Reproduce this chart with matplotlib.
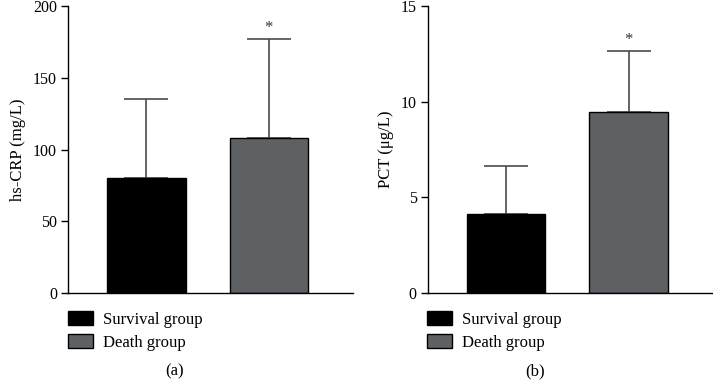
import matplotlib
matplotlib.use('Agg')
import matplotlib.pyplot as plt
from matplotlib.patches import Patch

plt.rcParams['font.family'] = ['Liberation Serif', 'DejaVu Serif']

groups = ['Survival group', 'Death group']
colors = ['#000000', '#5e6164']

crp_mean = [80, 107.8]
crp_sd = [55.2, 69.4]
pct_mean = [4.13, 9.44]
pct_sd = [2.49, 3.21]

panels = [
    ('hs-CRP (mg/L)', crp_mean, crp_sd, 200, [0, 50, 100, 150, 200], '(a)'),
    ('PCT (μg/L)', pct_mean, pct_sd, 15, [0, 5, 10, 15], '(b)'),
]

fig = plt.figure(figsize=(7.13, 3.82), dpi=100)
lefts = [0.0954, 0.600]
for (ylabel, means, sds, ymax, ticks, tag), left in zip(panels, lefts):
    ax = fig.add_axes([left, 0.233, 0.40, 0.751])
    x = [0, 1]
    ax.bar(x, means, width=0.64, color=colors, edgecolor='black', linewidth=1.0, zorder=2)
    _, caps, lines = ax.errorbar(x, means, yerr=[[0, 0], sds], fmt='none',
                                 ecolor='#4a4a4a', elinewidth=1.2, capsize=16,
                                 capthick=1.2, zorder=1)
    for c in caps:
        c.set_color('black')
    ax.text(1, means[1] + sds[1] + ymax * 0.01, '*', ha='center',
            va='bottom', fontsize=12, color='#333333')
    ax.set_xlim(-0.64, 1.69)
    ax.set_ylim(0, ymax)
    ax.set_yticks(ticks)
    ax.set_xticks([])
    ax.spines['top'].set_visible(False)
    ax.spines['right'].set_visible(False)
    for s in ['left', 'bottom']:
        ax.spines[s].set_linewidth(1.0)
    ax.tick_params(axis='y', direction='out', length=5, width=1.0, labelsize=11.5, pad=3)
    ax.set_ylabel(ylabel, fontsize=12, labelpad=5)
    handles = [Patch(facecolor=c, edgecolor='black', label=g) for c, g in zip(colors, groups)]
    ax.legend(handles=handles, loc='upper left', bbox_to_anchor=(-0.025, -0.04),
              frameon=False, fontsize=12, handlelength=1.5, handleheight=0.9,
              handletextpad=0.6, labelspacing=0.4, borderaxespad=0)
    ax.text(0.375, -0.275, tag, transform=ax.transAxes, ha='center', va='center', fontsize=12)

fig.savefig('out.png', dpi=100)
